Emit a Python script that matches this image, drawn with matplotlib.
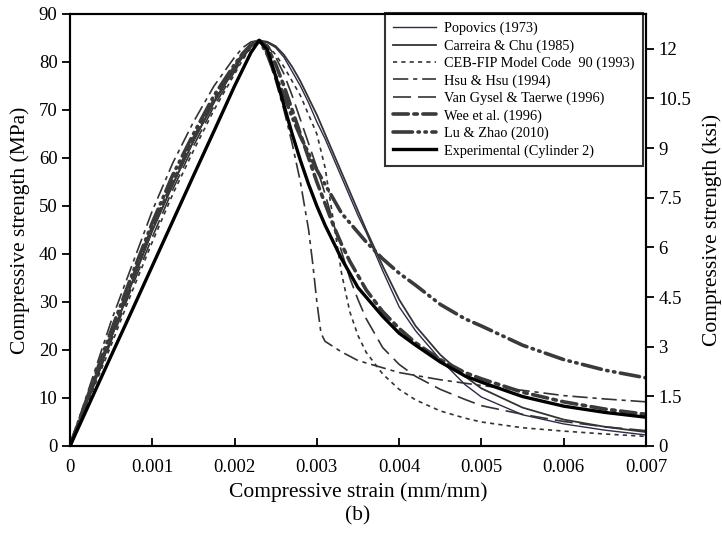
import matplotlib
matplotlib.use("Agg")
import matplotlib.pyplot as plt
from matplotlib.ticker import FixedLocator

plt.rcParams['font.family'] = ['Liberation Serif', 'DejaVu Serif']
plt.rcParams['lines.scale_dashes'] = False

# ---- data (strain in mm/mm, stress in MPa) ----
strain = [0, 0.00025, 0.0005, 0.00075, 0.001, 0.00125, 0.0015, 0.00175, 0.002, 0.0021, 0.0022, 0.0023,
          0.0024, 0.0025, 0.0026, 0.0027, 0.0028, 0.0029, 0.003, 0.0031, 0.0032, 0.0033, 0.0034,
          0.0035, 0.0036, 0.0038, 0.004, 0.0042, 0.0045, 0.0048, 0.005, 0.0055, 0.006, 0.0065, 0.007]

popovics = [0, 11, 22.5, 34, 45, 54.5, 63.5, 71.5, 78.5, 81, 83.3, 84.5,
            84, 83, 81, 78, 75, 71.5, 67.5, 64, 60, 56, 52,
            48, 44.5, 36.5, 29, 24, 18, 12.8, 10.2, 6.5, 4.6, 3.3, 2.3]

carreira = [0, 11.2, 22.5, 33.8, 44.8, 54.5, 63.5, 71.8, 78.8, 81.3, 83.4, 84.5,
            84.2, 83.3, 81.5, 79, 76, 72.5, 69, 65, 61, 57, 53,
            49, 45, 37.5, 30.5, 25, 19, 14.5, 12, 8, 5.5, 4, 2.9]

ceb = [0, 10.5, 21, 32, 42.5, 52.5, 61.5, 70, 77.5, 80.5, 83, 84.5,
       83.5, 81.5, 79, 76, 73, 69, 65, 58, 47, 36, 28,
       23, 19.5, 15, 11.8, 9.6, 7.3, 5.8, 5, 3.8, 3.1, 2.5, 2.0]

van_gysel = [0, 10.8, 21.8, 33, 43.5, 53.5, 62.5, 70.8, 78, 80.8, 83.2, 84.5,
             83.5, 81, 77.5, 73, 68, 63, 58, 52.5, 46.5, 40.5, 35,
             30.5, 26.5, 20.5, 17, 14.5, 11.8, 9.7, 8.4, 6.6, 5.1, 4.0, 3.2]

wee = [0, 11.5, 23, 34.5, 45.5, 55, 64, 72, 79, 81.5, 83.5, 84.5,
       83, 79.5, 75, 70, 65, 60, 55, 50.5, 46, 42, 38.5,
       35.5, 32.5, 28, 24.5, 21.5, 18, 15.3, 14, 11.2, 9.2, 7.7, 6.6]

lu_zhao = [0, 12, 24, 35.5, 46.5, 56.5, 65, 73, 79.5, 81.8, 83.6, 84.5,
           81.5, 77, 73, 68.5, 64.5, 61, 57.5, 54.5, 51.5, 48.5, 46.5,
           44.5, 42.5, 39, 36, 33.5, 29.5, 26.5, 25, 21, 18, 15.8, 14.2]

experimental = [0, 9.4, 18.8, 28.1, 37.5, 46.9, 56.3, 65.6, 75, 78.5, 82, 84.5,
                82.5, 77, 71, 65, 59.5, 54.5, 50, 46, 42.5, 39, 36,
                33, 31, 27, 23.5, 21, 17.5, 14.6, 13.3, 10.3, 8.3, 7.0, 6.0]

hsu_strain = [0, 0.00025, 0.0005, 0.00075, 0.001, 0.00125, 0.0015, 0.00175, 0.002, 0.0021, 0.0022, 0.0023,
              0.0024, 0.0025, 0.0026, 0.0027, 0.0028, 0.0029, 0.00295, 0.003, 0.00305, 0.0031, 0.0033,
              0.0035, 0.004, 0.0045, 0.005, 0.0055, 0.006, 0.0065, 0.007]
hsu = [0, 13, 26, 37.5, 49, 59, 67.5, 75, 81, 83, 84.2, 84.5,
       81.5, 76, 70, 63, 55, 45, 38, 30, 23.5, 21.8, 19.6,
       17.8, 15.3, 13.8, 12.6, 11.6, 10.5, 9.8, 9.2]

labels = ["Popovics (1973)", "Carreira & Chu (1985)", "CEB-FIP Model Code  90 (1993)",
          "Hsu & Hsu (1994)", "Van Gysel & Taerwe (1996)", "Wee et al. (1996)",
          "Lu & Zhao (2010)", "Experimental (Cylinder 2)"]

x_ticks = [0, 0.001, 0.002, 0.003, 0.004, 0.005, 0.006, 0.007]
x_tick_labels = ["0", "0.001", "0.002", "0.003", "0.004", "0.005", "0.006", "0.007"]
y_ticks = [0, 10, 20, 30, 40, 50, 60, 70, 80, 90]
ksi_ticks = [0, 1.5, 3, 4.5, 6, 7.5, 9, 10.5, 12]
ksi_tick_labels = ["0", "1.5", "3", "4.5", "6", "7.5", "9", "10.5", "12"]
MPA_PER_KSI = 6.895

# ---- figure ----
fig = plt.figure(figsize=(7.22, 5.41), dpi=100)
ax = fig.add_axes([70/722, 95/541, 576/722, 432/541])

gray = '#333333'
navy = '#2b2b4a'
ax.plot(strain, popovics, color=navy, lw=1.0, label=labels[0])
ax.plot(strain, carreira, color=gray, lw=1.3, label=labels[1])
ax.plot(strain, ceb, color=gray, lw=1.2, dashes=(3, 3), label=labels[2])
ax.plot(hsu_strain, hsu, color=gray, lw=1.2, dashes=(11, 3.5, 3, 3.5), label=labels[3])
ax.plot(strain, van_gysel, color=gray, lw=1.2, dashes=(13, 5), label=labels[4])
ax.plot(strain, wee, color='#3a3a3a', lw=2.6, dashes=(11, 4, 2.5, 4), dash_capstyle='round', label=labels[5])
ax.plot(strain, lu_zhao, color='#3a3a3a', lw=2.6, dashes=(14, 4, 1, 4, 1, 4), dash_capstyle='round', label=labels[6])
ax.plot(strain, experimental, color='black', lw=2.4, label=labels[7])

ax.set_xlim(0, 0.007)
ax.set_ylim(0, 90)
ax.xaxis.set_major_locator(FixedLocator(x_ticks))
ax.set_xticklabels(x_tick_labels)
ax.yaxis.set_major_locator(FixedLocator(y_ticks))
ax.tick_params(axis='x', direction='in', length=6, width=1.3, labelsize=13.5, pad=9)
ax.tick_params(axis='y', direction='out', length=6, width=1.3, labelsize=13.5, pad=3)
for s in ax.spines.values():
    s.set_linewidth(1.5)
ax.set_xlabel("Compressive strain (mm/mm)", fontsize=15.5, labelpad=5)
ax.set_ylabel("Compressive strength (MPa)", fontsize=15.5, labelpad=6)

ax2 = ax.twinx()
ax2.set_ylim(0, 90 / MPA_PER_KSI)
ax2.yaxis.set_major_locator(FixedLocator(ksi_ticks))
ax2.set_yticklabels(ksi_tick_labels)
ax2.tick_params(axis='y', direction='out', length=6, width=1.3, labelsize=13.5, pad=3)
for s in ax2.spines.values():
    s.set_linewidth(1.5)
ax2.set_ylabel("Compressive strength (ksi)", fontsize=15.5, labelpad=8)

leg = ax.legend(loc='upper right', bbox_to_anchor=(0.995, 1.002), borderaxespad=0,
                fontsize=10.3, frameon=True, fancybox=False, edgecolor='black',
                handlelength=3.0, handletextpad=0.55, labelspacing=0.28,
                borderpad=0.6)
leg.get_frame().set_linewidth(1.5)

fig.text(358/722, 1 - 516/541, "(b)", ha='center', va='center', fontsize=15.5)

fig.savefig("out.png", dpi=100)
